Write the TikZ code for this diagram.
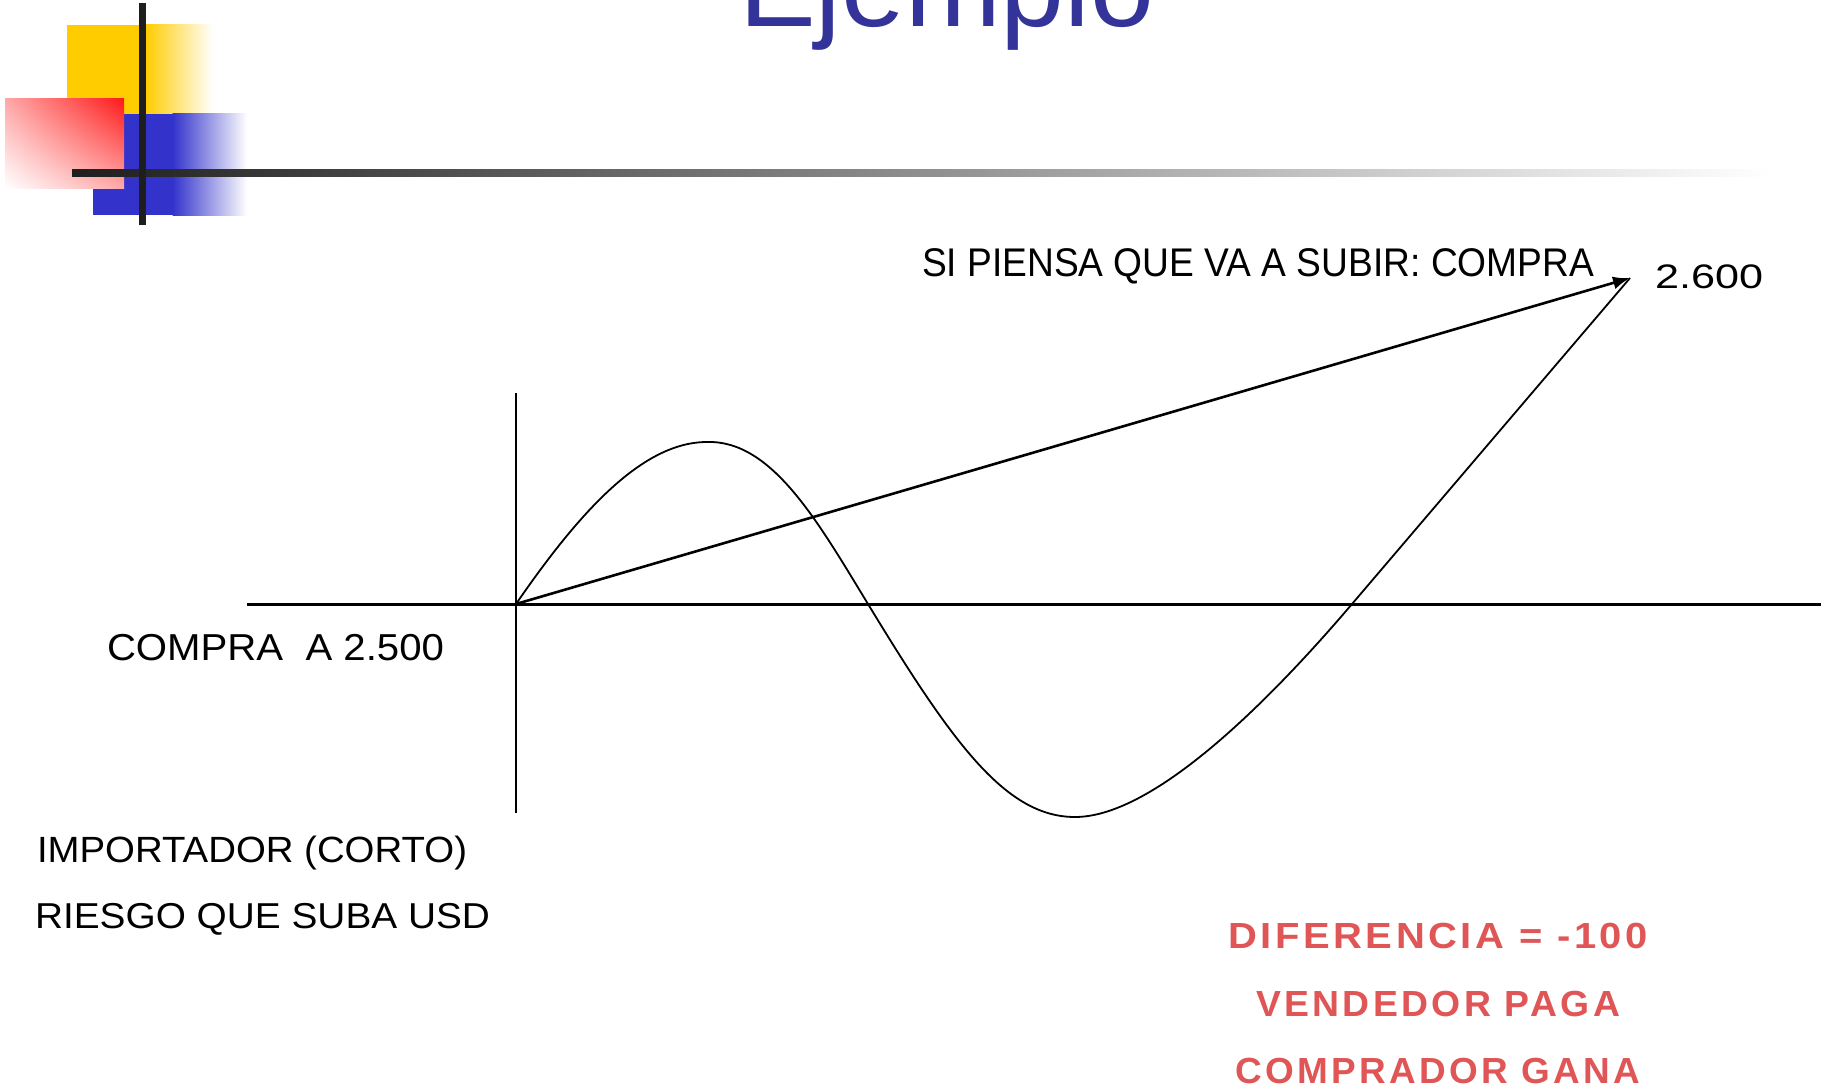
\documentclass[tikz,border=0pt]{standalone}
\usepackage{fontspec}
\setmainfont{Liberation Sans}
\usepackage{graphicx}
\usetikzlibrary{arrows.meta,shadings}
\definecolor{titleblue}{HTML}{333399}
\definecolor{decoyellow}{HTML}{FFCC00}
\definecolor{decoblue}{HTML}{3333CC}
\definecolor{decored}{HTML}{FF1A1A}
\definecolor{bardark}{HTML}{1E1E1E}
\definecolor{redtext}{HTML}{E05555}
\newcommand{\fitw}[2]{\resizebox{#1}{\height}{#2}}
\begin{document}
\begin{tikzpicture}[x=1pt,y=-1pt,
  lbl/.style={anchor=base west, inner sep=0pt, outer sep=0pt, text=black},
  redlbl/.style={anchor=base, inner sep=0pt, outer sep=0pt, text=redtext,
    font=\fontsize{36.3}{40}\selectfont\bfseries\addfontfeatures{LetterSpace=9}},
  axisline/.style={draw=black, line width=3pt},
  vaxis/.style={draw=black, line width=2pt},
  curveline/.style={draw=black, line width=1.8pt},
  arrowline/.style={draw=black, line width=2.6pt, -{Latex[length=17pt,width=13pt]}}]
\useasboundingbox (0,0) rectangle (1827,1089);
\fill[white] (0,0) rectangle (1827,1089);

% decoration
\fill[decoyellow] (67,25) rectangle (146,114);
\shade[left color=decoyellow, right color=white] (145.5,25) rectangle (213,114);
\fill[decoblue] (93,114) rectangle (173,215);
\shade[left color=decoblue, right color=white] (172.5,114) rectangle (247,215);
\shade[upper right=decored, lower left=white, upper left=decored!38!white, lower right=decored!38!white] (5,99) rectangle (124,188);
\shade[left color=bardark, right color=white] (72,169) rectangle (1770,176);
\fill[bardark] (139,3) rectangle (146,225);

% title
\node[lbl, text=titleblue, font=\fontsize{115}{124}\selectfont] (title) at (739,27) {Ejemplo};

% axes
\coordinate (O) at (516,604);
\coordinate (T) at (1630,278);
\coordinate (xl) at (247,604);
\coordinate (xr) at (1821,604);
\coordinate (yt) at (516,393);
\coordinate (yb) at (516,813);
\draw[axisline] (xl) -- (xr);
\draw[vaxis] (yt) -- (yb);

% curve
\coordinate (peak) at (707,442);
\coordinate (cross1) at (868,604);
\coordinate (trough) at (1075,817);
\coordinate (cross2) at (1352,604);
\draw[curveline, line join=round]
  (O) .. controls (580,511) and (643,442) .. (peak)
      .. controls (772,440) and (818,522) .. (cross1)
      .. controls (953,744) and (1006,817) .. (trough)
      .. controls (1150,817) and (1260,712) .. (cross2)
      -- (T);

% arrow
\draw[arrowline] (O) -- (T);

% labels
\node[lbl, font=\fontsize{40}{46}\selectfont] (sipiensa) at (922,276) {\fitw{672pt}{SI PIENSA QUE VA A SUBIR: COMPRA}};
\node[lbl, font=\fontsize{34}{40}\selectfont] (v2600) at (1655,288) {\fitw{108pt}{2.600}};
\node[lbl, font=\fontsize{37.5}{44}\selectfont] (compra) at (107,660) {\fitw{337pt}{COMPRA\ \ A 2.500}};
\node[lbl, font=\fontsize{36.5}{44}\selectfont] (importador) at (37,862) {\fitw{430pt}{IMPORTADOR (CORTO)}};
\node[lbl, font=\fontsize{36}{44}\selectfont] (riesgo) at (35,928) {\fitw{455pt}{RIESGO QUE SUBA USD}};

\node[redlbl] (dif) at (1438,948) {\fitw{420pt}{DIFERENCIA = -100}};
\node[redlbl] (vend) at (1438,1016) {\fitw{364pt}{VENDEDOR PAGA}};
\node[redlbl] (comp) at (1438,1083) {\fitw{405pt}{COMPRADOR GANA}};
\end{tikzpicture}
\end{document}
